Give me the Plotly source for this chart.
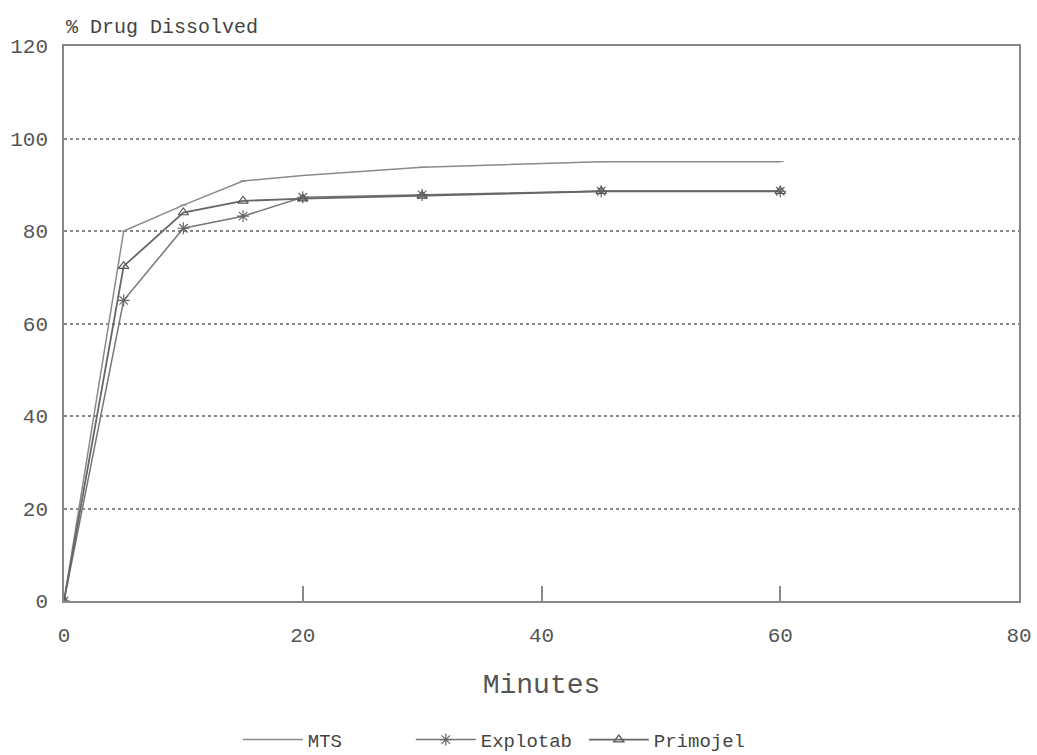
import plotly.graph_objects as go

minutes = [0, 5, 10, 15, 20, 30, 45, 60]
mts = [0, 80, 85.6, 90.8, 92, 93.8, 95, 95]
explotab = [0, 65, 80.6, 83.2, 87.3, 87.8, 88.6, 88.6]
primojel = [0, 72.4, 84, 86.5, 87, 87.6, 88.6, 88.6]

x_ticks = [0, 20, 40, 60, 80]
y_ticks = [0, 20, 40, 60, 80, 100, 120]

FONT = "Liberation Mono"
GREY = "#555555"

fig = go.Figure()
fig.add_trace(go.Scatter(x=minutes, y=mts, name="MTS", mode="lines+markers",
                         line=dict(color="#8a8a8a", width=1.5),
                         marker=dict(symbol="line-ew", size=5, color="#8a8a8a",
                                     line=dict(color="#8a8a8a", width=1))))
fig.add_trace(go.Scatter(x=minutes, y=explotab, name="Explotab", mode="lines+markers",
                         line=dict(color="#777777", width=1.5),
                         marker=dict(symbol="asterisk-open", size=10, color="#666666",
                                     line=dict(color="#666666", width=1.2))))
fig.add_trace(go.Scatter(x=minutes, y=primojel, name="Primojel", mode="lines+markers",
                         line=dict(color="#666666", width=1.8),
                         marker=dict(symbol="triangle-up-open", size=9, color="#555555",
                                     line=dict(color="#555555", width=1.2))))

fig.update_layout(
    width=1037, height=755,
    margin=dict(l=64, r=18, t=46, b=154, autoexpand=False),
    paper_bgcolor="white", plot_bgcolor="white",
    font=dict(family=FONT, color=GREY, size=16),
    showlegend=True,
    legend=dict(orientation="h", x=0.182, xanchor="left", y=-0.25, yanchor="middle",
                font=dict(family=FONT, size=19, color="#444444"),
                entrywidth=98, entrywidthmode="pixels",
                itemwidth=60, tracegroupgap=0),
    annotations=[dict(text="% Drug Dissolved", x=0, xref="paper", xanchor="left",
                      y=1, yref="paper", yanchor="bottom", yshift=5, showarrow=False,
                      font=dict(family=FONT, size=20, color="#444444"))],
)
fig.update_xaxes(range=[0, 80], tickvals=x_ticks, ticktext=[str(v) for v in x_ticks],
                 showgrid=False, zeroline=False, showline=True, mirror=True,
                 linecolor="#888888", linewidth=1.5, ticks="inside", ticklen=15,
                 tickwidth=1.5, tickcolor="#888888", tickfont=dict(size=21, color=GREY),
                 ticklabelstandoff=14, automargin=False,
                 title=dict(text="Minutes", font=dict(family=FONT, size=28, color=GREY),
                            standoff=26))
fig.update_yaxes(range=[0, 120], tickvals=y_ticks, ticktext=[str(v) for v in y_ticks],
                 showgrid=True, gridcolor="#888888", griddash="dot", gridwidth=1.5,
                 zeroline=False, showline=True, mirror=True, automargin=False,
                 linecolor="#888888", linewidth=1.5, ticks="", ticklen=0,
                 ticklabelstandoff=10, tickfont=dict(size=21, color=GREY))

fig.write_html("out.html")
